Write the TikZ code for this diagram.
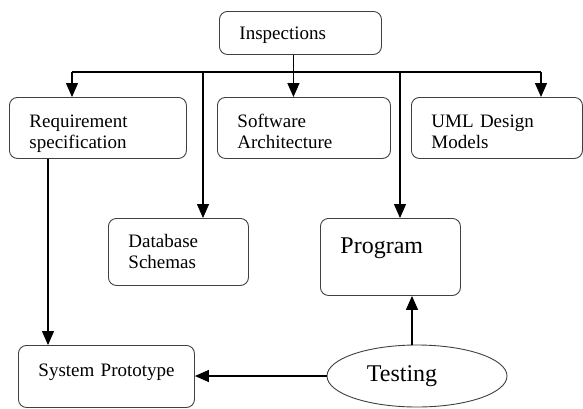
\documentclass[tikz,border=0pt]{standalone}
\usepackage{fontspec}
\setmainfont{Liberation Serif}
\usetikzlibrary{arrows.meta,shapes.geometric}
\begin{document}
\begin{tikzpicture}[x=1pt,y=-1pt,
 box/.style={draw=black!75, line width=0.9pt, rounded corners=8pt, inner ysep=0pt, inner xsep=20pt,
   align=left, anchor=north west, font=\fontsize{19}{21}\selectfont},
 big/.style={font=\fontsize{24}{28}\selectfont},
 conn/.style={line width=1.3pt, -{Triangle[length=14pt,width=12pt]}},
 bus/.style={line width=1.3pt}]
\useasboundingbox (0,0) rectangle (583,408);

\node[box, text width=122pt, text height=28pt, text depth=15pt] (insp) at (219,11) {Inspections};
\node[box, text width=137pt, text height=30pt, text depth=31pt] (req) at (9,97) {Requirement\\specification};
\node[box, text width=133pt, text height=30pt, text depth=31pt] (soft) at (217,97) {Software\\Architecture};
\node[box, text width=131pt, text height=30pt, text depth=31pt] (uml) at (411,97) {UML Design\\Models};
\node[box, text width=100pt, minimum height=67pt] (db) at (108,218) {Database\\Schemas};
\node[box, big, text width=100pt, text height=35pt, text depth=42pt] (prog) at (320,218) {Program};
\node[box, text width=136pt, text height=31pt, text depth=31pt] (sys) at (18,345) {\mbox{System Prototype}};
\node[ellipse, draw=black!75, line width=0.9pt, inner sep=0pt, minimum width=180pt, minimum height=62pt, big] (test) at (417,376) {Testing\kern30pt\mbox{}};

\coordinate (bL) at (72,72);
\coordinate (bR) at (541,72);
\coordinate (b1) at (203,72);
\coordinate (b2) at (400,72);
\draw[bus] (bL) -- (bR);
\draw[conn] (bL) -- (bL |- req.north);
\draw[conn] (bR) -- (bR |- uml.north);
\draw[conn] ([xshift=-7pt]insp.south) -- ([xshift=-7pt]insp.south |- soft.north);
\draw[conn] (b1) -- (b1 |- db.north);
\draw[conn] (b2) -- (b2 |- prog.north);
\draw[conn] ([xshift=39pt]req.south west) -- ([xshift=39pt]req.south west |- sys.north);
\draw[conn] (test.west) -- (test.west -| sys.east);
\draw[conn] ([xshift=-5pt]test.north) -- ([xshift=-5pt]test.north |- prog.south);
\end{tikzpicture}
\end{document}
